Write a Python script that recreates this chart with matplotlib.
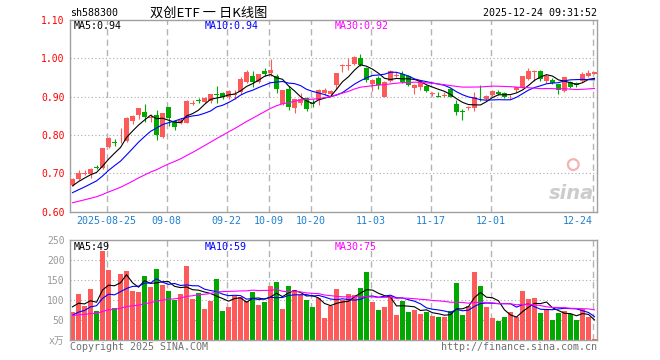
import numpy as np
import pandas as pd
import matplotlib
matplotlib.use('Agg')
import matplotlib.pyplot as plt

plt.rcParams['font.family'] = ['DejaVu Sans Mono', 'Noto Sans CJK SC']

# K线数据 (2025-08-15 .. 2025-12-24)
opens = [0.669, 0.684, 0.699, 0.698, 0.716, 0.713, 0.769, 0.782, 0.784, 0.785,
         0.836, 0.853, 0.861, 0.845, 0.853, 0.795, 0.872, 0.835, 0.832, 0.832,
         0.883, 0.891, 0.886, 0.888, 0.907, 0.909, 0.900, 0.905, 0.911, 0.937,
         0.954, 0.937, 0.967, 0.961, 0.953, 0.880, 0.921, 0.871, 0.882, 0.897,
         0.885, 0.890, 0.909, 0.906, 0.931, 0.981, 0.981, 0.984, 1.001, 0.974,
         0.932, 0.948, 0.900, 0.941, 0.956, 0.959, 0.954, 0.922, 0.924, 0.928,
         0.907, 0.903, 0.902, 0.919, 0.880, 0.863, 0.869, 0.871, 0.901, 0.893,
         0.903, 0.913, 0.909, 0.899, 0.917, 0.924, 0.946, 0.965, 0.967, 0.941,
         0.943, 0.932, 0.915, 0.937, 0.935, 0.940, 0.954, 0.959]
highs = [0.687, 0.709, 0.708, 0.713, 0.721, 0.766, 0.795, 0.790, 0.819, 0.847,
         0.852, 0.871, 0.880, 0.855, 0.865, 0.858, 0.874, 0.840, 0.844, 0.890,
         0.890, 0.896, 0.898, 0.907, 0.928, 0.912, 0.917, 0.918, 0.950, 0.970,
         0.966, 0.960, 0.974, 0.997, 0.960, 0.918, 0.928, 0.895, 0.909, 0.900,
         0.893, 0.920, 0.923, 0.918, 0.962, 0.986, 1.000, 1.006, 1.010, 0.976,
         0.946, 0.955, 0.942, 0.970, 0.965, 0.967, 0.957, 0.932, 0.944, 0.931,
         0.913, 0.911, 0.911, 0.922, 0.890, 0.868, 0.876, 0.911, 0.930, 0.905,
         0.917, 0.918, 0.913, 0.905, 0.926, 0.955, 0.974, 0.969, 0.970, 0.958,
         0.949, 0.934, 0.951, 0.940, 0.937, 0.963, 0.969, 0.964]
lows = [0.666, 0.682, 0.694, 0.688, 0.710, 0.710, 0.766, 0.771, 0.780, 0.782,
        0.828, 0.842, 0.834, 0.834, 0.786, 0.792, 0.824, 0.812, 0.828, 0.830,
        0.877, 0.882, 0.884, 0.884, 0.884, 0.895, 0.895, 0.895, 0.908, 0.935,
        0.925, 0.935, 0.955, 0.955, 0.909, 0.878, 0.865, 0.856, 0.878, 0.862,
        0.874, 0.878, 0.904, 0.903, 0.919, 0.965, 0.970, 0.982, 0.980, 0.937,
        0.915, 0.920, 0.900, 0.938, 0.950, 0.935, 0.927, 0.906, 0.918, 0.911,
        0.902, 0.899, 0.899, 0.898, 0.853, 0.840, 0.866, 0.862, 0.888, 0.890,
        0.901, 0.903, 0.897, 0.895, 0.913, 0.922, 0.944, 0.942, 0.940, 0.936,
        0.933, 0.908, 0.913, 0.923, 0.925, 0.938, 0.952, 0.958]
closes = [0.684, 0.700, 0.701, 0.711, 0.714, 0.765, 0.791, 0.780, 0.786, 0.844,
          0.849, 0.869, 0.846, 0.848, 0.799, 0.856, 0.843, 0.821, 0.840, 0.888,
          0.885, 0.889, 0.896, 0.906, 0.905, 0.900, 0.915, 0.907, 0.947, 0.963,
          0.937, 0.959, 0.959, 0.970, 0.921, 0.917, 0.873, 0.893, 0.895, 0.867,
          0.883, 0.918, 0.917, 0.915, 0.961, 0.983, 0.983, 1.004, 0.983, 0.944,
          0.944, 0.930, 0.938, 0.967, 0.958, 0.939, 0.930, 0.930, 0.941, 0.914,
          0.909, 0.901, 0.904, 0.900, 0.859, 0.861, 0.872, 0.900, 0.899, 0.902,
          0.915, 0.908, 0.900, 0.901, 0.924, 0.953, 0.967, 0.967, 0.946, 0.953,
          0.935, 0.917, 0.950, 0.926, 0.930, 0.958, 0.961, 0.963]
# 成交量 (万手)
volumes = [71, 115, 86, 128, 72, 223, 176, 79, 166, 172,
           123, 120, 161, 132, 178, 137, 123, 101, 116, 186,
           103, 117, 78, 98, 153, 73, 83, 111, 108, 97,
           121, 88, 96, 135, 145, 78, 135, 125, 112, 100,
           83, 106, 56, 85, 128, 100, 115, 112, 131, 171,
           95, 75, 83, 111, 62, 97, 70, 75, 65, 70,
           61, 57, 57, 72, 142, 62, 85, 170, 135, 83,
           55, 47, 57, 71, 57, 122, 102, 106, 68, 77,
           50, 67, 72, 64, 50, 77, 57, 2.5]

# earlier days, only used for the moving averages (estimated)
prior_closes = [0.585, 0.588, 0.592, 0.590, 0.594, 0.591,
                0.598, 0.603, 0.607, 0.610, 0.612, 0.615, 0.618, 0.617, 0.621, 0.626,
                0.628, 0.631, 0.633, 0.636,
                0.625, 0.628, 0.632, 0.634, 0.638,
                0.645, 0.655, 0.668, 0.683]
prior_volumes = [55, 62, 58, 70, 66, 52, 60, 64, 57, 61,
                 68, 59, 53, 63, 66, 58, 62, 56, 60, 60,
                 38, 44, 40, 42, 41,
                 70, 95, 88, 91]

tick_idx = [6, 16, 26, 33, 40, 50, 60, 70, 87]
tick_labels = ['2025-08-25', '09-08', '09-22', '10-09', '10-20', '11-03', '11-17', '12-01', '12-24']
price_ticks = [0.60, 0.70, 0.80, 0.90, 1.00, 1.10]
vol_ticks = [0, 50, 100, 150, 200, 250]
vol_tick_labels = ['x万', '50', '100', '150', '200', '250']

RED = '#ff5a5a'
GREEN = '#00a800'
GRID = '#aaaaaa'

n = len(closes)
x = np.arange(n)
o = np.array(opens); h = np.array(highs); l = np.array(lows); c = np.array(closes)
up = c >= o
cols = np.where(up, RED, GREEN)

allc = pd.Series(prior_closes + closes)
ma5 = allc.rolling(5).mean().values[-n:]
ma10 = allc.rolling(10).mean().values[-n:]
ma30 = allc.rolling(30).mean().values[-n:]
allv = pd.Series(prior_volumes + volumes)
vma5 = allv.rolling(5).mean().values[-n:]
vma10 = allv.rolling(10).mean().values[-n:]
vma30 = allv.rolling(30).mean().values[-n:]

W, H = 660, 360
fig = plt.figure(figsize=(6.6, 3.6), dpi=100)
ax = fig.add_axes([70 / W, 1 - 211.5 / H, 527 / W, 191.5 / H])
axv = fig.add_axes([70 / W, 1 - 340 / H, 527 / W, 100 / H])

xl = (-0.42, n - 1 + 0.42)
vx = [i - 0.3 for i in tick_idx]

for a in (ax, axv):
    a.set_xlim(*xl)
    for s in a.spines.values():
        s.set_color('#a0a0a0')
        s.set_linewidth(1.0)
    for v in vx:
        a.axvline(v, color='#b4b4b4', lw=1.0, ls=(0, (4.5, 3)), zorder=0)

# candles
ax.vlines(x, l, h, colors=cols, lw=0.8, zorder=2)
body = np.maximum(np.abs(c - o), 0.0022)
ax.bar(x, body, bottom=np.minimum(o, c) - np.where(np.abs(c - o) < 0.0022, 0.0011, 0), width=0.82,
       color=cols, lw=0, zorder=3)
ax.plot(x, ma5, color='black', lw=0.8, zorder=4)
ax.plot(x, ma10, color='#0000ff', lw=0.8, zorder=4)
ax.plot(x, ma30, color='#ff00ff', lw=0.8, zorder=4)
ax.set_ylim(0.60, 1.10)
for yv in price_ticks[1:-1]:
    ax.axhline(yv, color=GRID, lw=0.8, ls=(0, (1, 2.2)), zorder=0)
ax.set_yticks(price_ticks)
ax.set_yticklabels(['%.2f' % p for p in price_ticks])
ax.tick_params(axis='y', length=0, pad=4, labelcolor='red', labelsize=7)
ax.set_xticks(vx)
ax.set_xticklabels(tick_labels)
ax.tick_params(axis='x', length=0, pad=3, labelcolor='#1f80d0', labelsize=7.2)
lab = ax.get_xticklabels()
lab[-1].set_ha('right')

# volume
axv.bar(x, volumes, width=0.82, color=cols, lw=0, zorder=2)
axv.plot(x, vma5, color='black', lw=0.8, zorder=4)
axv.plot(x, vma10, color='#0000ff', lw=0.8, zorder=4)
axv.plot(x, vma30, color='#ff00ff', lw=0.8, zorder=4)
axv.set_ylim(0, 250)
for yv in vol_ticks[1:-1]:
    axv.axhline(yv, color=GRID, lw=0.8, ls=(0, (1, 2.2)), zorder=0)
axv.set_yticks(vol_ticks)
axv.set_yticklabels(vol_tick_labels)
axv.tick_params(axis='y', length=0, pad=4, labelcolor='#999999', labelsize=7)
axv.set_xticks([])


def ftext(px, py, s, **kw):
    fig.text(px / W, 1 - py / H, s, **kw)


ftext(70, 13, 'sh588300', fontsize=7.2, va='center', ha='left')
ftext(209, 13, '双创ETF 一 日K线图', fontsize=9.5, va='center', ha='center',
      family=['Noto Sans CJK SC', 'DejaVu Sans'])
ftext(597, 13, '2025-12-24 09:31:52', fontsize=7.2, va='center', ha='right')

ftext(74, 26, 'MA5:0.94', fontsize=7.2, va='center', color='black')
ftext(205, 26, 'MA10:0.94', fontsize=7.2, va='center', color='#0000ff')
ftext(335, 26, 'MA30:0.92', fontsize=7.2, va='center', color='#ff00ff')

ftext(74, 246.5, 'MA5:49', fontsize=7.2, va='center', color='black')
ftext(205, 246.5, 'MA10:59', fontsize=7.2, va='center', color='#0000ff')
ftext(335, 246.5, 'MA30:75', fontsize=7.2, va='center', color='#ff00ff')

ftext(70, 346.5, 'Copyright 2025 SINA.COM', fontsize=7.2, va='center', color='#707070')
ftext(597, 346.5, 'http://finance.sina.com.cn', fontsize=7.2, va='center', ha='right', color='#707070')

# watermark
ftext(594, 203, 'sina', fontsize=14, va='bottom', ha='right', color='#cccccc',
      fontweight='bold', style='italic', family='DejaVu Sans')
ax.scatter([0.955], [0.245], s=60, facecolors='none', edgecolors='#f4b4b4', lw=1.6,
           transform=ax.transAxes, zorder=1)

fig.savefig('out.png', dpi=100)
